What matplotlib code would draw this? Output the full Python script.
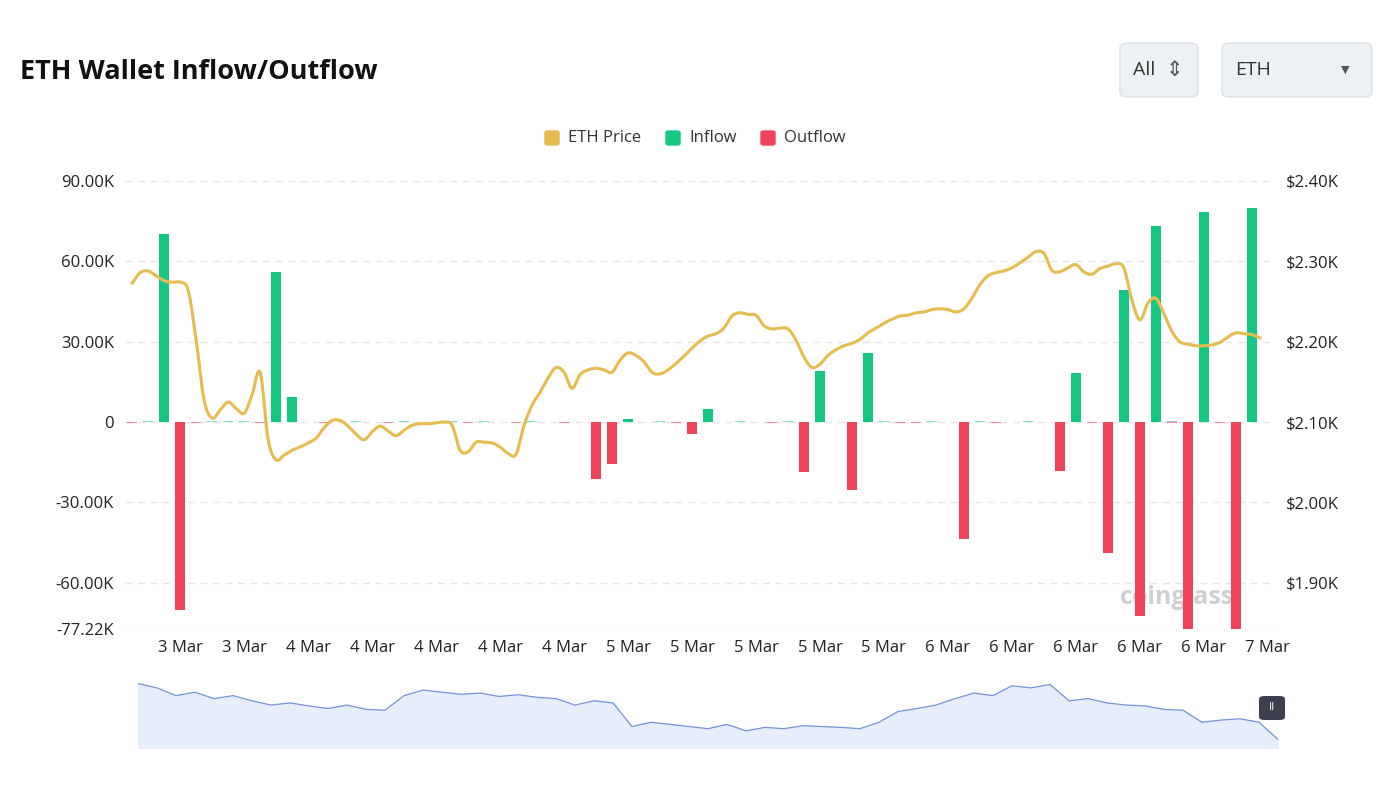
import matplotlib.pyplot as plt
from matplotlib.patches import FancyBboxPatch
import numpy as np

plt.rcParams["font.family"] = "Open Sans"

# hourly slots (0..71), inflow / outflow in thousands of ETH
n_slots = 72
inflow_idx = [2, 9, 10, 31, 36, 43, 46, 59, 62, 64, 67, 70]
inflow_val = [70.2, 56.0, 9.3, 1.1, 4.8, 19.0, 25.8, 18.3, 49.3, 73.2, 78.4, 79.9]
outflow_idx = [3, 29, 30, 35, 42, 45, 52, 58, 61, 63, 66, 69]
outflow_val = [-70.2, -21.3, -15.7, -4.3, -18.7, -25.4, -43.7, -18.3, -48.9, -72.4, -80.0, -80.0]
tiny_in_idx = [1, 5, 6, 7, 14, 17, 20, 22, 25, 33, 38, 41, 47, 50, 53, 56, 65]
tiny_out_idx = [0, 4, 8, 12, 16, 19, 21, 24, 27, 34, 40, 48, 49, 54, 60, 65, 68]

# ETH price (USD), sampled every half slot
price = [2273, 2286, 2288, 2282, 2276, 2274, 2274, 2264, 2202, 2127, 2105, 2115, 2125, 2117,
         2111, 2134, 2162, 2078, 2053, 2059, 2065, 2069, 2074, 2080, 2093, 2102, 2102, 2095,
         2085, 2078, 2088, 2095, 2089, 2083, 2090, 2096, 2098, 2098, 2099, 2100, 2096, 2065,
         2063, 2075, 2075, 2074, 2069, 2061, 2060, 2096, 2121, 2137, 2155, 2168, 2162, 2142,
         2159, 2165, 2167, 2165, 2162, 2177, 2186, 2183, 2175, 2162, 2160, 2165, 2173, 2182,
         2192, 2201, 2207, 2210, 2217, 2232, 2236, 2234, 2233, 2220, 2216, 2217, 2216, 2202,
         2181, 2168, 2172, 2183, 2190, 2195, 2198, 2203, 2211, 2217, 2223, 2228, 2232, 2233,
         2236, 2237, 2240, 2241, 2240, 2237, 2241, 2254, 2271, 2282, 2286, 2288, 2292, 2298,
         2305, 2312, 2310, 2289, 2287, 2292, 2296, 2287, 2284, 2291, 2294, 2297, 2292, 2252,
         2227, 2248, 2254, 2235, 2213, 2200, 2197, 2195, 2195, 2196, 2199, 2206, 2211, 2210,
         2209, 2205]

tick_idx = [3, 7, 11, 15, 19, 23, 27, 31, 35, 39, 43, 47, 51, 55, 59, 63, 67, 71]
tick_labels = ["3 Mar", "3 Mar", "4 Mar", "4 Mar", "4 Mar", "4 Mar", "4 Mar", "5 Mar", "5 Mar",
               "5 Mar", "5 Mar", "5 Mar", "6 Mar", "6 Mar", "6 Mar", "6 Mar", "6 Mar", "7 Mar"]
left_ticks = [90, 60, 30, 0, -30, -60, -77.22]
left_labels = ["90.00K", "60.00K", "30.00K", "0", "-30.00K", "-60.00K", "-77.22K"]
right_ticks = [2400, 2300, 2200, 2100, 2000, 1900]
right_labels = ["$2.40K", "$2.30K", "$2.20K", "$2.10K", "$2.00K", "$1.90K"]

# overview navigator series
nav = [2290, 2280, 2262, 2270, 2255, 2262, 2250, 2240, 2245, 2238, 2232, 2240, 2230, 2228,
       2262, 2275, 2270, 2265, 2268, 2260, 2264, 2258, 2255, 2240, 2250, 2245, 2190, 2200,
       2195, 2190, 2185, 2195, 2180, 2188, 2185, 2192, 2190, 2188, 2185, 2200, 2225, 2232,
       2240, 2255, 2268, 2262, 2285, 2280, 2288, 2250, 2255, 2245, 2240, 2238, 2230, 2228,
       2200, 2205, 2208, 2200, 2160]

GREEN = "#16c784"
RED = "#f0435a"
GOLD = "#e6bb4f"
TXT = "#222222"


def smooth(x, y, k=8):
    # Catmull-Rom through the sampled points
    x = np.asarray(x, float)
    y = np.asarray(y, float)
    xp = np.concatenate([[x[0]], x, [x[-1]]])
    yp = np.concatenate([[y[0]], y, [y[-1]]])
    t = np.linspace(0, 1, k, endpoint=False)
    xs, ys = [], []
    for i in range(1, len(xp) - 2):
        for arr, out in ((xp, xs), (yp, ys)):
            p0, p1, p2, p3 = arr[i - 1], arr[i], arr[i + 1], arr[i + 2]
            out.extend(0.5 * (2 * p1 + (-p0 + p2) * t + (2 * p0 - 5 * p1 + 4 * p2 - p3) * t ** 2
                              + (-p0 + 3 * p1 - 3 * p2 + p3) * t ** 3))
    xs.append(x[-1])
    ys.append(y[-1])
    return xs, ys


fig = plt.figure(figsize=(13.97, 8.07), dpi=100)
ax = fig.add_axes([125 / 1397, 178 / 807, 1150 / 1397, 448 / 807])
ax.set_xlim(-0.45, 71.45)
ax.set_ylim(-77.22, 90)

for t in [90, 60, 30, 0, -30, -60]:
    ax.axhline(t, color="#e6e6e6", lw=1, ls=(0, (5, 4)), zorder=0)
ax.axhline(-77.22, color="#e6e6e6", lw=1, zorder=0)

w = 0.62
ax.bar(inflow_idx, inflow_val, width=w, color=GREEN, zorder=2)
ax.bar(outflow_idx, outflow_val, width=w, color=RED, zorder=2)
ax.bar(tiny_in_idx, [0.4] * len(tiny_in_idx), width=w, color=GREEN, alpha=0.5, zorder=2)
ax.bar(tiny_out_idx, [-0.4] * len(tiny_out_idx), width=w, color=RED, alpha=0.6, zorder=2)

ax.set_xticks(tick_idx)
ax.set_xticklabels(tick_labels)
ax.set_yticks(left_ticks)
ax.set_yticklabels(left_labels)
for s in ax.spines.values():
    s.set_visible(False)
ax.tick_params(length=0, labelsize=12, colors=TXT, pad=8)

ax2 = ax.twinx()
ax2.set_ylim(2100 - 77.22 / 90 * 300, 2400)
sx, sy = smooth(np.arange(len(price)) * 0.5, price)
ax2.plot(sx, sy, color=GOLD, lw=2.2, zorder=3)
ax2.set_yticks(right_ticks)
ax2.set_yticklabels(right_labels)
for s in ax2.spines.values():
    s.set_visible(False)
ax2.tick_params(length=0, labelsize=12, colors=TXT, pad=8)

ax.text(0.915, 0.07, "coinglass", transform=ax.transAxes, fontsize=18, color="#cfcfcf",
        fontweight="bold", ha="center", va="center", zorder=1)

# legend
items = [("ETH Price", GOLD, 545), ("Inflow", GREEN, 666), ("Outflow", RED, 761)]
for label, c, xp in items:
    fig.patches.append(FancyBboxPatch((xp / 1397, 1 - 145 / 807), 14 / 1397, 14 / 807,
                                      boxstyle="round,pad=0,rounding_size=0.002",
                                      transform=fig.transFigure, color=c))
    fig.text((xp + 23) / 1397, 1 - 138 / 807, label, fontsize=12, color="#333333", va="center")

fig.text(20 / 1397, 1 - 72 / 807, "ETH Wallet Inflow/Outflow", fontsize=19.5, fontweight="bold",
         color="#111111", va="center")

for (bx, bw, label) in [(1120, 78, "All"), (1222, 150, "ETH")]:
    fig.patches.append(FancyBboxPatch((bx / 1397, 1 - 97 / 807), bw / 1397, 54 / 807,
                                      boxstyle="round,pad=0,rounding_size=0.006",
                                      transform=fig.transFigure, facecolor="#eef1f4",
                                      edgecolor="#dde1e6", lw=1))
    fig.text((bx + 13) / 1397, 1 - 70 / 807, label, fontsize=14, color="#333333", va="center")
fig.text(1174 / 1397, 1 - 70 / 807, "\u21d5", fontsize=15, color="#555555", va="center",
         ha="center", fontfamily="DejaVu Sans")
fig.text(1345 / 1397, 1 - 70 / 807, "\u25bc", fontsize=8, color="#555555", va="center",
         ha="center", fontfamily="DejaVu Sans")

# navigator
axn = fig.add_axes([138 / 1397, 59 / 807, 1140 / 1397, 73 / 807])
nx = np.arange(len(nav))
axn.fill_between(nx, nav, 2100, color="#e6edfb")
axn.plot(nx, nav, color="#7594d6", lw=0.9)
axn.set_xlim(0, len(nav) - 1)
axn.set_ylim(2140, 2310)
axn.axis("off")
fig.patches.append(FancyBboxPatch((1259 / 1397, 1 - 720 / 807), 26 / 1397, 24 / 807,
                                  boxstyle="round,pad=0,rounding_size=0.004",
                                  transform=fig.transFigure, facecolor="#3a3f4b", edgecolor="none"))
fig.text(1272 / 1397, 1 - 708 / 807, "II", fontsize=8, color="white", ha="center", va="center")

fig.savefig("out.png", dpi=100)
